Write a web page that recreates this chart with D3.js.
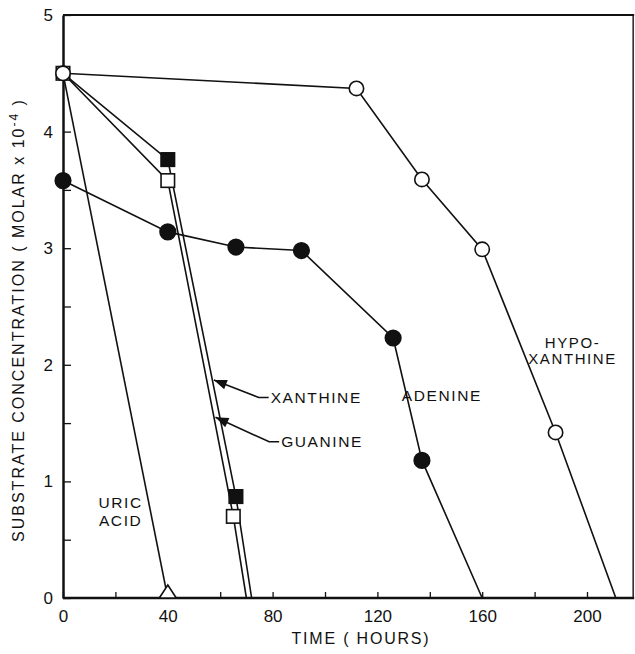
<!DOCTYPE html>
<html><head><meta charset="utf-8">
<script src="https://cdn.jsdelivr.net/npm/d3@7"></script>
<style>
body{margin:0;background:#fff;}
svg text{font-family:"Liberation Sans",Arial,sans-serif;fill:#111;}
</style></head>
<body><svg id="c" width="635" height="654"></svg>
<script>
// ---- data (hours, molar x 10^-4) ----
const hypoxanthineT = [0, 112, 137, 160, 188, 211];
const hypoxanthineC = [4.5, 4.37, 3.59, 2.99, 1.42, 0];
const hypoxanthineMarked = [true, true, true, true, true, false];

const adenineT = [0, 40, 66, 91, 126, 137, 160];
const adenineC = [3.58, 3.14, 3.01, 2.98, 2.23, 1.18, 0];
const adenineMarked = [true, true, true, true, true, true, false];

const xanthineT = [0, 40, 66, 72];
const xanthineC = [4.5, 3.76, 0.87, 0];
const xanthineMarked = [false, true, true, false];

const guanineT = [0, 40, 65, 70];
const guanineC = [4.5, 3.58, 0.70, 0];
const guanineMarked = [true, true, true, false];

const uricT = [0, 40];
const uricC = [4.5, 0];
const uricMarked = [false, true];

const xTicks = [0, 20, 40, 60, 80, 100, 120, 140, 160, 180, 200];
const xTickLabels = [0, 40, 80, 120, 160, 200];
const yTicks = [0, 0.5, 1, 1.5, 2, 2.5, 3, 3.5, 4, 4.5, 5];
const yTickLabels = [0, 1, 2, 3, 4, 5];

const svg = d3.select("#c");
const x = d3.scaleLinear().domain([0, 200]).range([63, 587]);
const y = d3.scaleLinear().domain([0, 5]).range([598, 15]);
const xMax = 218;

const mk = (T, C, M) => T.map((t, i) => ({t, c: C[i], m: M[i]}));
const series = {
  hypo: mk(hypoxanthineT, hypoxanthineC, hypoxanthineMarked),
  ade: mk(adenineT, adenineC, adenineMarked),
  xan: mk(xanthineT, xanthineC, xanthineMarked),
  gua: mk(guanineT, guanineC, guanineMarked),
  uric: mk(uricT, uricC, uricMarked)
};

// frame
const frame = svg.append("g").attr("stroke", "#111").attr("fill", "none");
frame.append("line").attr("x1", x(0)).attr("x2", x(xMax)).attr("y1", y(5)).attr("y2", y(5)).attr("stroke-width", 2.2);
frame.append("line").attr("x1", x(xMax) - 1).attr("x2", x(xMax) - 1).attr("y1", y(5)).attr("y2", y(0)).attr("stroke-width", 1.4);

// axes
const xAxis = d3.axisBottom(x).tickValues(xTicks).tickSizeInner(-6).tickSizeOuter(0)
  .tickFormat(d => xTickLabels.includes(d) ? d : "").tickPadding(12);
const gx = svg.append("g").attr("transform", `translate(0,${y(0)})`).call(xAxis);
gx.select(".domain").attr("d", `M${x(0)},0H${x(xMax)}`).attr("stroke-width", 2.5).attr("stroke", "#111");
gx.selectAll(".tick line").attr("stroke", "#111").attr("stroke-width", 1.3);
gx.selectAll(".tick text").attr("font-size", 17).attr("fill", "#111");

const yAxis = d3.axisLeft(y).tickValues(yTicks).tickSizeInner(-8).tickSizeOuter(0)
  .tickFormat(d => yTickLabels.includes(d) ? d : "").tickPadding(10);
const gy = svg.append("g").attr("transform", `translate(${x(0)},0)`).call(yAxis);
gy.select(".domain").attr("stroke-width", 2.5).attr("stroke", "#111");
gy.selectAll(".tick line").attr("stroke", "#111").attr("stroke-width", 1.3);
gy.selectAll(".tick text").attr("font-size", 17).attr("fill", "#111");

// axis titles
svg.append("text").attr("x", 361).attr("y", 644).attr("text-anchor", "middle")
  .attr("font-size", 16).attr("letter-spacing", 1.8).text("TIME ( HOURS)");
const yt = svg.append("text").attr("transform", "translate(24,320) rotate(-90)")
  .attr("text-anchor", "middle").attr("font-size", 16).attr("letter-spacing", 2);
yt.append("tspan").text("SUBSTRATE CONCENTRATION ( MOLAR x 10");
yt.append("tspan").attr("dy", -6).attr("font-size", 12).text("-4");
yt.append("tspan").attr("dy", 6).text(" )");

// lines
const line = d3.line().x(d => x(d.t)).y(d => y(d.c));
const lg = svg.append("g").attr("fill", "none").attr("stroke", "#111").attr("stroke-width", 1.6);
Object.values(series).forEach(s => lg.append("path").attr("d", line(s)));

// markers
const mg = svg.append("g");
function circles(data, fill) {
  mg.selectAll(null).data(data.filter(d => d.m)).join("circle")
    .attr("cx", d => x(d.t)).attr("cy", d => y(d.c)).attr("r", fill ? 7.8 : 7.2)
    .attr("fill", fill ? "#111" : "#fff").attr("stroke", "#111").attr("stroke-width", 1.6);
}
function squares(data, fill) {
  const s = 13.5;
  mg.selectAll(null).data(data.filter(d => d.m)).join("rect")
    .attr("x", d => x(d.t) - s / 2).attr("y", d => y(d.c) - s / 2).attr("width", s).attr("height", s)
    .attr("fill", fill ? "#111" : "#fff").attr("stroke", "#111").attr("stroke-width", 1.6);
}
squares(series.xan, true);
squares(series.gua, false);
circles(series.ade, true);
circles(series.hypo, false);
mg.selectAll(null).data(series.uric.filter(d => d.m)).join("path")
  .attr("d", d => { const cx = x(d.t), cy = y(d.c); return `M${cx},${cy - 13}L${cx + 8.5},${cy}L${cx - 8.5},${cy}Z`; })
  .attr("fill", "#fff").attr("stroke", "#111").attr("stroke-width", 1.6);

// labels
const lab = svg.append("g").attr("font-size", 15.5).attr("letter-spacing", 1.6);
function label(tx, ty, lines, gap, fs) {
  const t = lab.append("text").attr("x", x(tx)).attr("y", y(ty)).attr("text-anchor", "middle");
  if (fs) t.attr("font-size", fs);
  lines.forEach((l, i) => t.append("tspan").attr("x", x(tx)).attr("dy", i ? gap : "0.36em").text(l));
}
label(22, 0.82, ["URIC", "ACID"], 18);
label(144.6, 1.74, ["ADENINE"]);
label(194.5, 2.19, ["HYPO-", "XANTHINE"], 16, 15);

// arrow annotations pointing at lines
function interpT(s, c) {
  for (let i = 0; i < s.length - 1; i++) {
    const a = s[i], b = s[i + 1];
    if ((c <= a.c && c >= b.c)) return a.t + (b.t - a.t) * (a.c - c) / (a.c - b.c);
  }
  return 0;
}
function arrow(s, cTip, tText, cText, text) {
  const tipX = x(interpT(s, cTip)) + 1.5, tipY = y(cTip);
  const ex = x(tText), ey = y(cText);
  const kx = ex - 10;
  svg.append("path").attr("d", `M${ex},${ey}L${kx},${ey}L${tipX},${tipY}`)
    .attr("fill", "none").attr("stroke", "#111").attr("stroke-width", 1.6);
  const ang = Math.atan2(tipY - ey, tipX - kx);
  const L = 13, W = 5;
  const bx = tipX - L * Math.cos(ang), by = tipY - L * Math.sin(ang);
  const px = -Math.sin(ang) * W, py = Math.cos(ang) * W;
  svg.append("path").attr("d", `M${tipX},${tipY}L${bx + px},${by + py}L${bx - px},${by - py}Z`).attr("fill", "#111");
  lab.append("text").attr("x", ex + 2).attr("y", ey).attr("dy", "0.36em").text(text);
}
arrow(series.xan, 1.87, 78.5, 1.72, "XANTHINE");
arrow(series.gua, 1.55, 82.5, 1.34, "GUANINE");
</script></body></html>
